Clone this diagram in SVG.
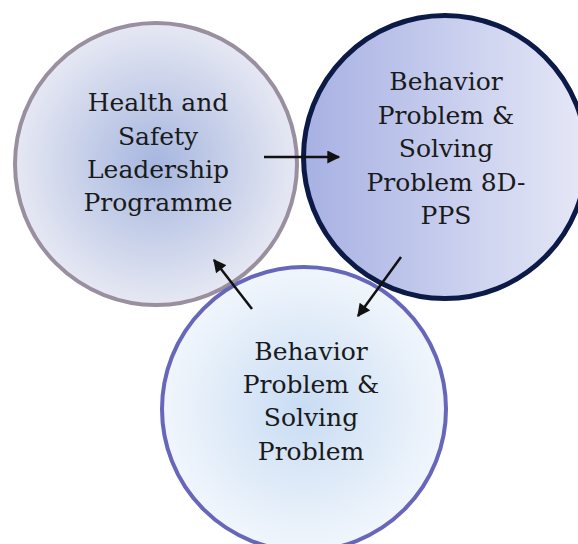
<svg xmlns="http://www.w3.org/2000/svg" width="578" height="544" viewBox="0 0 578 544">
<defs>
<radialGradient id="g1" cx="50%" cy="50%" r="50%">
<stop offset="0" stop-color="#a6b6df"/>
<stop offset="1" stop-color="#e6e8f3"/>
</radialGradient>
<linearGradient id="g2" x1="0" y1="0" x2="1" y2="0">
<stop offset="0" stop-color="#a7b1e3"/>
<stop offset="1" stop-color="#e6e8f7"/>
</linearGradient>
<radialGradient id="g3" cx="50%" cy="50%" r="50%">
<stop offset="0" stop-color="#c8dcf3"/>
<stop offset="1" stop-color="#f1f6fc"/>
</radialGradient>
<marker id="ah" viewBox="0 0 10 10" refX="9" refY="5" markerWidth="5.8" markerHeight="5.2" orient="auto" markerUnits="strokeWidth">
<path d="M0,0 L10,5 L0,10 z" fill="#111"/>
</marker>
<style>
.lbl{font-family:"DejaVu Serif","Liberation Serif",serif;font-size:25px;fill:#1a1a1a;text-anchor:middle}
.arr{stroke:#111;stroke-width:2.5;fill:none;marker-end:url(#ah)}
</style>
</defs>
<g id="node-health">
<circle cx="156" cy="164" r="141" fill="url(#g1)" stroke="#9a8f9f" stroke-width="4"/>
<text class="lbl" x="158" y="111">Health and</text>
<text class="lbl" x="158" y="145">Safety</text>
<text class="lbl" x="158" y="178">Leadership</text>
<text class="lbl" x="158" y="211">Programme</text>
</g>
<g id="node-bps">
<circle cx="304" cy="409" r="142" fill="url(#g3)" stroke="#6666bb" stroke-width="4"/>
<text class="lbl" x="311" y="360">Behavior</text>
<text class="lbl" x="311" y="393">Problem &amp;</text>
<text class="lbl" x="311" y="426">Solving</text>
<text class="lbl" x="311" y="460">Problem</text>
</g>
<g id="node-8d">
<circle cx="445" cy="157" r="141.5" fill="url(#g2)" stroke="#0b1a46" stroke-width="5"/>
<text class="lbl" x="446" y="90">Behavior</text>
<text class="lbl" x="446" y="124">Problem &amp;</text>
<text class="lbl" x="446" y="157">Solving</text>
<text class="lbl" x="446" y="191">Problem 8D-</text>
<text class="lbl" x="446" y="224">PPS</text>
</g>
<g id="connectors">
<line class="arr" x1="264" y1="157" x2="339" y2="157"/>
<line class="arr" x1="401" y1="257" x2="358" y2="316"/>
<line class="arr" x1="252" y1="309" x2="214" y2="260"/>
</g>
</svg>
